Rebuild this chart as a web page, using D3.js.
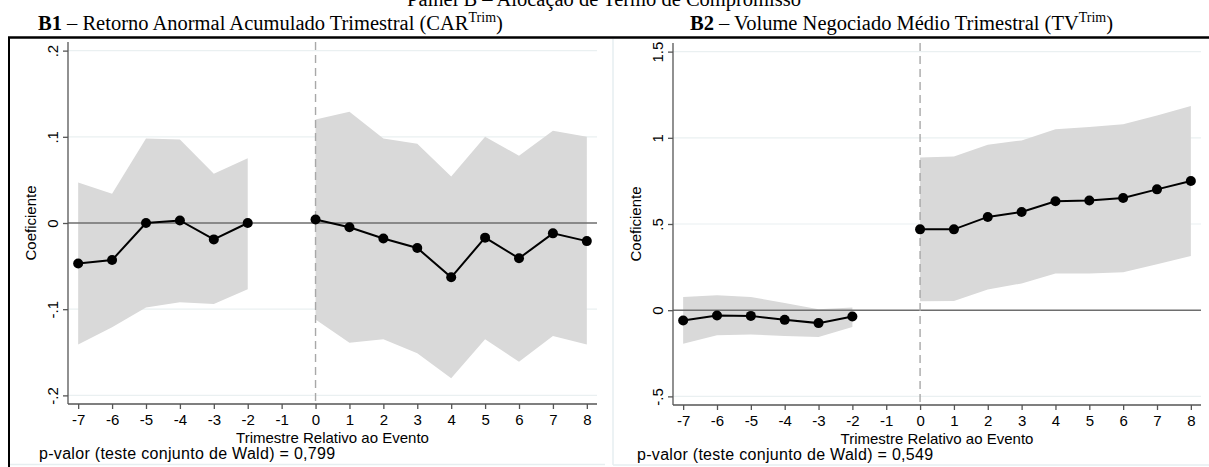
<!DOCTYPE html>
<html>
<head>
<meta charset="utf-8">
<script src="https://cdn.jsdelivr.net/npm/d3@7"></script>
<style>
  body { margin: 0; background: #fff; }
  svg { display: block; }
  .serif { font-family: "Liberation Serif", "Times New Roman", serif; }
  .sans { font-family: "Liberation Sans", Arial, sans-serif; }
</style>
</head>
<body>
<div id="chart"></div>
<script>
// Event-study coefficients, quarters relative to the event
var quarters = [-7, -6, -5, -4, -3, -2, 0, 1, 2, 3, 4, 5, 6, 7, 8];
var xTicks = [-7, -6, -5, -4, -3, -2, -1, 0, 1, 2, 3, 4, 5, 6, 7, 8];

// B1 - CAR
var carCoef = [-0.047, -0.043, 0.000, 0.003, -0.019, 0.000, 0.004, -0.005, -0.018, -0.029, -0.063, -0.017, -0.041, -0.012, -0.021];
var carHi = [0.047, 0.034, 0.098, 0.097, 0.057, 0.075, 0.120, 0.129, 0.098, 0.092, 0.054, 0.100, 0.078, 0.107, 0.100];
var carLo = [-0.141, -0.121, -0.098, -0.092, -0.094, -0.077, -0.112, -0.139, -0.135, -0.151, -0.180, -0.135, -0.161, -0.131, -0.141];
var carTicks = [-0.2, -0.1, 0, 0.1, 0.2];
var carTickLabels = ["-.2", "-.1", "0", ".1", ".2"];

// B2 - TV
var tvCoef = [-0.060, -0.031, -0.033, -0.056, -0.075, -0.037, 0.469, 0.469, 0.541, 0.570, 0.632, 0.636, 0.651, 0.701, 0.749];
var tvHi = [0.077, 0.087, 0.077, 0.042, 0.006, 0.016, 0.886, 0.892, 0.960, 0.985, 1.050, 1.062, 1.079, 1.130, 1.184];
var tvLo = [-0.195, -0.145, -0.141, -0.149, -0.156, -0.098, 0.052, 0.054, 0.120, 0.155, 0.213, 0.213, 0.220, 0.267, 0.315];
var tvTicks = [-0.5, 0, 0.5, 1, 1.5];
var tvTickLabels = ["-.5", "0", ".5", "1", "1.5"];

var svgWidth = 1209;
var svgHeight = 467;

var svg = d3.select("#chart")
  .append("svg")
  .attr("width", svgWidth)
  .attr("height", svgHeight);

// Header (cut off at the top, as in the source)
svg.append("text")
  .attr("class", "serif")
  .attr("x", 604)
  .attr("y", 6)
  .attr("text-anchor", "middle")
  .style("font-size", "20.5px")
  .text("Painel B – Alocação de Termo de Compromisso");

function panelTitle(x, bold, rest, sup) {
  var t = svg.append("text")
    .attr("class", "serif")
    .attr("x", x)
    .attr("y", 30)
    .style("font-size", "20.5px");
  t.append("tspan").style("font-weight", "bold").text(bold);
  t.append("tspan").text(rest);
  t.append("tspan").attr("dy", -8).style("font-size", "14px").text(sup);
  t.append("tspan").attr("dy", 8).text(")");
}
panelTitle(38, "B1", " – Retorno Anormal Acumulado Trimestral (CAR", "Trim");
panelTitle(690, "B2", " – Volume Negociado Médio Trimestral (TV", "Trim");

// thick rule under titles
svg.append("line")
  .attr("x1", 8).attr("x2", 1209)
  .attr("y1", 37.5).attr("y2", 37.5)
  .attr("stroke", "#000").attr("stroke-width", 2.5);

// panel frames
svg.append("line")
  .attr("x1", 9).attr("x2", 9).attr("y1", 37).attr("y2", 467)
  .attr("stroke", "#000").attr("stroke-width", 2);
svg.append("line")
  .attr("x1", 10).attr("x2", 605).attr("y1", 464.5).attr("y2", 464.5)
  .attr("stroke", "#e6eef0").attr("stroke-width", 1.5);
svg.append("line")
  .attr("x1", 613).attr("x2", 613).attr("y1", 39).attr("y2", 465)
  .attr("stroke", "#e6eef0").attr("stroke-width", 1.5);
svg.append("line")
  .attr("x1", 613).attr("x2", 1209).attr("y1", 465).attr("y2", 465)
  .attr("stroke", "#e6eef0").attr("stroke-width", 1.5);

function drawPanel(opt) {
  var x = d3.scaleLinear().domain([-7.3, 8.3]).range([opt.left, opt.right]);
  var y = d3.scaleLinear().domain(opt.yDomain).range([opt.bottom, opt.top]);
  var g = svg.append("g");

  var rows = quarters.map(function(q, i) {
    return { q: q, c: opt.coef[i], hi: opt.hi[i], lo: opt.lo[i] };
  });
  var segments = [rows.filter(d => d.q < 0), rows.filter(d => d.q >= 0)];

  // gridlines
  g.selectAll(".grid")
    .data(opt.ticks.filter(v => v !== 0))
    .enter()
    .append("line")
    .attr("x1", opt.left).attr("x2", opt.right)
    .attr("y1", d => y(d)).attr("y2", d => y(d))
    .attr("stroke", "#eaf0f1").attr("stroke-width", 1.2);

  // confidence bands
  var area = d3.area()
    .x(d => x(d.q))
    .y0(d => y(d.lo))
    .y1(d => y(d.hi));
  g.selectAll(".band")
    .data(segments)
    .enter()
    .append("path")
    .attr("d", area)
    .attr("fill", "#d9d9d9");

  // zero line
  g.append("line")
    .attr("x1", opt.left).attr("x2", opt.right)
    .attr("y1", y(0)).attr("y2", y(0))
    .attr("stroke", "#6e6e6e").attr("stroke-width", 1.4);

  // event line
  g.append("line")
    .attr("x1", x(0)).attr("x2", x(0))
    .attr("y1", opt.top).attr("y2", opt.bottom)
    .attr("stroke", "#a8a8a8").attr("stroke-width", 1.4)
    .attr("stroke-dasharray", "8,5");

  // axes
  var leftAxis = d3.axisLeft(y)
    .tickValues(opt.ticks)
    .tickFormat((d, i) => opt.tickLabels[i])
    .tickSize(5);
  var ya = g.append("g")
    .attr("transform", `translate(${opt.left}, 0)`)
    .call(leftAxis);
  ya.select(".domain").attr("d", `M0,${opt.top}V${opt.bottom}`);
  ya.selectAll(".tick text")
    .attr("class", "sans")
    .attr("x", 0).attr("y", 0)
    .attr("dy", "0.35em")
    .attr("transform", "translate(-15,0) rotate(-90)")
    .style("text-anchor", "middle")
    .style("font-size", "15px");

  var bottomAxis = d3.axisBottom(x)
    .tickValues(xTicks)
    .tickFormat(d => String(d))
    .tickSize(5).tickPadding(5);
  var xa = g.append("g")
    .attr("transform", `translate(0, ${opt.bottom})`)
    .call(bottomAxis);
  xa.select(".domain").attr("d", `M${opt.left},0H${opt.right}`);
  xa.selectAll(".tick text")
    .attr("class", "sans")
    .style("font-size", "15px");

  g.selectAll(".domain, .tick line")
    .attr("stroke", "#555").attr("stroke-width", 1.3);
  g.selectAll(".tick text").attr("fill", "#000");

  // coefficient lines and markers
  var line = d3.line()
    .x(d => x(d.q))
    .y(d => y(d.c));
  g.selectAll(".coef")
    .data(segments)
    .enter()
    .append("path")
    .attr("d", line)
    .attr("fill", "none")
    .attr("stroke", "#000")
    .attr("stroke-width", 2);
  g.selectAll(".dot")
    .data(rows)
    .enter()
    .append("circle")
    .attr("cx", d => x(d.q))
    .attr("cy", d => y(d.c))
    .attr("r", 5)
    .attr("fill", "#000");

  // axis titles
  g.append("text")
    .attr("class", "sans")
    .attr("transform", `translate(${opt.left - 32}, ${(opt.top + opt.bottom) / 2}) rotate(-90)`)
    .attr("text-anchor", "middle")
    .style("font-size", "15px")
    .text("Coeficiente");

  g.append("text")
    .attr("class", "sans")
    .attr("x", (opt.left + opt.right) / 2)
    .attr("y", opt.bottom + 39)
    .attr("text-anchor", "middle")
    .style("font-size", "15px")
    .text("Trimestre Relativo ao Evento");

  g.append("text")
    .attr("class", "sans")
    .attr("x", opt.noteX)
    .attr("y", opt.bottom + 55)
    .style("font-size", "16px")
    .style("letter-spacing", "0.3px")
    .text(opt.note);
}

drawPanel({
  left: 68, right: 597, top: 42, bottom: 404,
  yDomain: [-0.21, 0.21],
  coef: carCoef, hi: carHi, lo: carLo,
  ticks: carTicks, tickLabels: carTickLabels,
  noteX: 39,
  note: "p-valor (teste conjunto de Wald) = 0,799"
});

drawPanel({
  left: 673, right: 1201, top: 43, bottom: 405,
  yDomain: [-0.55, 1.55],
  coef: tvCoef, hi: tvHi, lo: tvLo,
  ticks: tvTicks, tickLabels: tvTickLabels,
  noteX: 637,
  note: "p-valor (teste conjunto de Wald) = 0,549"
});
</script>
</body>
</html>
